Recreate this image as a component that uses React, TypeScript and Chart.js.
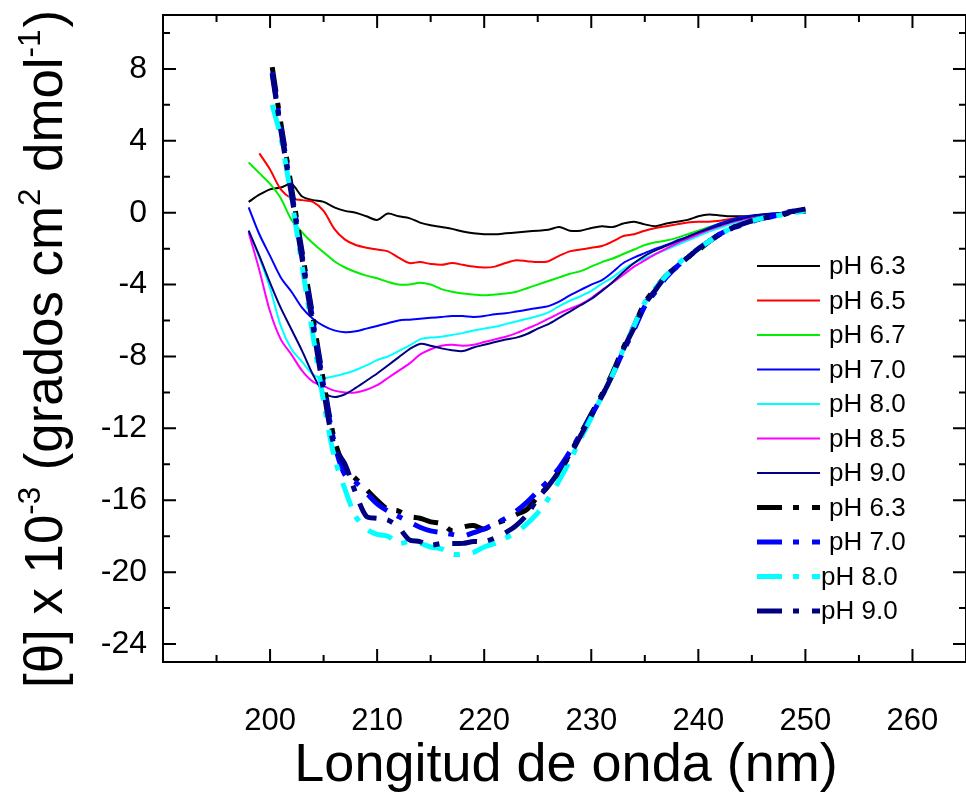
import React, { useEffect, useRef } from 'react';
import { Chart, registerables } from 'chart.js';

Chart.register(...registerables);

const FONT = "'Liberation Sans', Arial, Helvetica, sans-serif";

// ---------- data ----------
const solidWavelengths = [198, 199, 200, 201, 202, 203, 204, 205, 206, 207, 208, 209, 210, 211, 212, 213, 214, 215, 216, 217, 218, 219, 220, 221, 222, 223, 224, 225, 226, 227, 228, 229, 230, 231, 232, 233, 234, 235, 236, 237, 238, 239, 240, 241, 242, 243, 244, 245, 246, 247, 248, 249, 250];

const ph63 = [0.6, 1.0, 1.3, 1.4, 1.6, 0.9, 0.7, 0.6, 0.3, 0.1, 0.0, -0.2, -0.4, -0.05, -0.2, -0.3, -0.55, -0.7, -0.8, -0.9, -1.05, -1.15, -1.2, -1.2, -1.15, -1.1, -1.05, -1.0, -0.95, -0.8, -1.0, -1.0, -0.85, -0.75, -0.8, -0.6, -0.5, -0.65, -0.75, -0.6, -0.5, -0.4, -0.2, -0.1, -0.15, -0.2, -0.2, -0.2, -0.15, -0.1, -0.05, 0.0, 0.0];
const ph65 = [null, 3.3, 2.4, 1.3, 0.8, 0.7, 0.6, 0.1, -0.9, -1.5, -1.8, -1.95, -2.05, -2.15, -2.5, -2.8, -2.75, -2.85, -2.9, -2.8, -2.9, -3.0, -3.05, -3.0, -2.8, -2.65, -2.7, -2.75, -2.7, -2.4, -2.15, -2.05, -1.95, -1.85, -1.6, -1.3, -1.2, -1.0, -0.85, -0.75, -0.65, -0.55, -0.5, -0.5, -0.45, -0.35, -0.25, -0.2, -0.15, -0.1, -0.05, 0.0, 0.0];
const ph67 = [2.8, 2.2, 1.6, 0.8, -0.4, -1.1, -1.7, -2.2, -2.7, -3.05, -3.3, -3.5, -3.65, -3.85, -4.0, -4.0, -3.9, -4.0, -4.25, -4.4, -4.5, -4.55, -4.6, -4.55, -4.5, -4.4, -4.2, -4.0, -3.8, -3.6, -3.4, -3.25, -3.0, -2.75, -2.55, -2.3, -2.05, -1.8, -1.65, -1.55, -1.4, -1.2, -1.0, -0.8, -0.6, -0.45, -0.3, -0.2, -0.15, -0.1, -0.05, 0.0, 0.0];
const ph70 = [0.3, -1.2, -2.4, -3.6, -4.4, -5.3, -5.9, -6.3, -6.55, -6.65, -6.6, -6.45, -6.3, -6.15, -6.0, -5.95, -5.9, -5.85, -5.8, -5.75, -5.75, -5.8, -5.75, -5.65, -5.6, -5.5, -5.4, -5.3, -5.2, -4.95, -4.6, -4.3, -4.0, -3.75, -3.3, -2.8, -2.5, -2.25, -2.0, -1.8, -1.55, -1.35, -1.1, -0.85, -0.6, -0.4, -0.25, -0.15, -0.1, -0.05, 0.0, 0.0, 0.0];
const ph80 = [-1.0, -2.5, -4.2, -6.3, -7.6, -8.3, -9.0, -9.2, -9.1, -8.95, -8.75, -8.5, -8.2, -8.0, -7.7, -7.4, -7.05, -6.95, -6.9, -6.8, -6.7, -6.55, -6.45, -6.35, -6.2, -6.05, -5.9, -5.75, -5.55, -5.2, -4.9, -4.65, -4.35, -3.95, -3.6, -3.15, -2.8, -2.55, -2.3, -2.05, -1.8, -1.55, -1.3, -1.05, -0.85, -0.65, -0.45, -0.3, -0.2, -0.1, -0.05, 0.0, 0.0];
const ph85 = [-1.1, -3.2, -5.5, -7.05, -7.9, -8.8, -9.4, -9.65, -9.9, -10.0, -10.0, -9.85, -9.6, -9.2, -8.8, -8.4, -7.9, -7.6, -7.4, -7.35, -7.4, -7.35, -7.2, -7.05, -6.9, -6.7, -6.45, -6.2, -5.9, -5.6, -5.35, -5.1, -4.75, -4.3, -3.9, -3.45, -3.0, -2.65, -2.3, -2.0, -1.7, -1.45, -1.2, -0.95, -0.75, -0.55, -0.4, -0.25, -0.15, -0.1, -0.05, 0.0, 0.0];
const ph90 = [-1.0, -2.4, -3.9, -5.3, -6.5, -7.7, -9.0, -10.0, -10.25, -10.1, -9.75, -9.35, -8.95, -8.5, -8.05, -7.6, -7.3, -7.4, -7.55, -7.65, -7.7, -7.5, -7.35, -7.2, -7.05, -6.95, -6.75, -6.45, -6.2, -5.85, -5.5, -5.15, -4.8, -4.35, -3.85, -3.3, -2.8, -2.4, -2.1, -1.85, -1.6, -1.35, -1.1, -0.9, -0.7, -0.5, -0.35, -0.2, -0.1, -0.05, 0.0, 0.0, 0.0];

const dashedWavelengths = [200.2, 201, 202, 203, 204, 205, 206, 207, 208, 209, 210, 211, 212, 213, 214, 215, 216, 217, 218, 219, 220, 221, 222, 223, 224, 225, 226, 227, 228, 229, 230, 231, 232, 233, 234, 235, 236, 237, 238, 239, 240, 241, 242, 243, 244, 245, 246, 247, 248, 249, 250];

const ph63b = [8.1, 5.0, 1.4, -2.2, -5.8, -9.4, -12.6, -14.2, -14.8, -15.4, -16.0, -16.5, -16.6, -16.9, -17.0, -17.2, -17.3, -17.7, -17.5, -17.4, -17.6, -17.3, -17.1, -16.8, -16.5, -15.8, -15.2, -14.4, -13.4, -12.3, -11.2, -10.1, -8.9, -7.5, -6.3, -5.0, -4.2, -3.5, -3.0, -2.5, -2.1, -1.6, -1.2, -0.9, -0.6, -0.45, -0.3, -0.2, -0.1, 0.1, 0.2];
const ph70b = [7.8, 4.8, 1.2, -2.4, -6.0, -9.6, -12.8, -14.6, -15.0, -15.6, -16.2, -16.6, -16.9, -17.2, -17.5, -17.7, -17.8, -17.9, -18.0, -17.8, -17.6, -17.3, -17.0, -16.6, -16.1, -15.5, -14.9, -14.2, -13.3, -12.3, -11.3, -10.2, -9.0, -7.7, -6.5, -5.2, -4.4, -3.6, -3.0, -2.5, -2.0, -1.6, -1.2, -0.9, -0.7, -0.5, -0.3, -0.2, 0.0, 0.1, 0.1];
const ph80b = [6.0, 4.2, 0.8, -3.0, -6.8, -10.5, -13.6, -15.4, -16.9, -17.6, -17.9, -18.0, -18.4, -18.3, -18.4, -18.6, -18.7, -19.0, -19.0, -18.9, -18.6, -18.4, -18.1, -17.8, -17.3, -16.7, -15.9, -14.9, -13.8, -12.6, -11.4, -10.2, -9.0, -7.6, -6.3, -5.0, -4.2, -3.5, -2.9, -2.4, -2.0, -1.6, -1.2, -0.9, -0.65, -0.45, -0.3, -0.2, -0.1, 0.0, 0.1];
const ph90b = [7.7, 4.6, 1.0, -2.6, -6.3, -9.9, -13.0, -14.0, -15.6, -16.9, -17.0, -17.1, -17.5, -18.2, -18.3, -18.5, -18.4, -18.4, -18.4, -18.3, -18.3, -18.1, -17.8, -17.4, -16.8, -15.9, -15.2, -14.4, -13.5, -12.4, -11.3, -10.2, -9.0, -7.6, -6.4, -5.1, -4.3, -3.5, -3.0, -2.5, -2.0, -1.6, -1.2, -0.9, -0.65, -0.45, -0.3, -0.2, -0.05, 0.1, 0.2];

const seriesLabels = ['pH 6.3', 'pH 6.5', 'pH 6.7', 'pH 7.0', 'pH 8.0', 'pH 8.5', 'pH 9.0', 'pH 6.3', 'pH 7.0', 'pH 8.0', 'pH 9.0'];
const seriesColors = ['#000000', '#ff0000', '#00ee00', '#0000ff', '#00ffff', '#ff00ff', '#000080', '#000000', '#0000ff', '#00ffff', '#000080'];

const xMajorTicks = [190, 200, 210, 220, 230, 240, 250, 260];
const xTickLabels = [200, 210, 220, 230, 240, 250, 260];
const yMajorTicks = [-24, -20, -16, -12, -8, -4, 0, 4, 8];
const yTickLabels = [8, 4, 0, -4, -8, -12, -16, -20, -24];

const DASH = [25, 11, 6, 13];

function pts(xs: number[], ys: (number | null)[]) {
  return xs.map((x, i) => ({ x, y: ys[i] }));
}

const framePlugin = {
  id: 'frameAndText',
  afterDraw(chart: any) {
    const { ctx, chartArea: a, scales } = chart;
    const xs = scales.x;
    const ys = scales.y;
    ctx.save();
    ctx.strokeStyle = '#000';
    ctx.fillStyle = '#000';
    ctx.lineWidth = 2;
    ctx.setLineDash([]);
    ctx.beginPath();
    ctx.rect(a.left, a.top, a.right - a.left, a.bottom - a.top);
    ctx.stroke();

    const MAJ = 13;
    const MIN = 7;
    ctx.beginPath();
    xMajorTicks.forEach((v) => {
      const px = xs.getPixelForValue(v);
      ctx.moveTo(px, a.bottom); ctx.lineTo(px, a.bottom - MAJ);
      ctx.moveTo(px, a.top); ctx.lineTo(px, a.top + MAJ);
      const pm = xs.getPixelForValue(v + 5);
      ctx.moveTo(pm, a.bottom); ctx.lineTo(pm, a.bottom - MIN);
      ctx.moveTo(pm, a.top); ctx.lineTo(pm, a.top + MIN);
    });
    yMajorTicks.forEach((v) => {
      const py = ys.getPixelForValue(v);
      ctx.moveTo(a.left, py); ctx.lineTo(a.left + MAJ, py);
      ctx.moveTo(a.right, py); ctx.lineTo(a.right - MAJ, py);
      const pm = ys.getPixelForValue(v + 2);
      ctx.moveTo(a.left, pm); ctx.lineTo(a.left + MIN, pm);
      ctx.moveTo(a.right, pm); ctx.lineTo(a.right - MIN, pm);
    });
    ctx.stroke();

    // y tick labels
    ctx.font = `32px ${FONT}`;
    ctx.textAlign = 'right';
    ctx.textBaseline = 'middle';
    yTickLabels.forEach((v) => {
      ctx.fillText(String(v), a.left - 16, ys.getPixelForValue(v));
    });
    // x tick labels
    ctx.font = `31px ${FONT}`;
    ctx.textAlign = 'center';
    ctx.textBaseline = 'alphabetic';
    xTickLabels.forEach((v) => {
      ctx.fillText(String(v), xs.getPixelForValue(v), a.bottom + 68);
    });
    // x title
    ctx.font = `54px ${FONT}`;
    ctx.fillText('Longitud de onda (nm)', 566, 781);

    // y title with superscripts, fitted to its span
    const parts: [string, boolean][] = [
      ['[\u03b8] x 10', false], ['-3', true], [' (grados cm', false], ['2', true], [' dmol', false], ['-1', true], [')', false],
    ];
    let total = 0;
    parts.forEach(([t, sup]) => {
      ctx.font = sup ? `32px ${FONT}` : `54px ${FONT}`;
      total += ctx.measureText(t).width + (sup ? 2 : 0);
    });
    const span = 678;
    ctx.save();
    ctx.translate(62, 688);
    ctx.rotate(-Math.PI / 2);
    ctx.scale(span / total, 1);
    ctx.textAlign = 'left';
    let cx = 0;
    parts.forEach(([t, sup]) => {
      ctx.font = sup ? `32px ${FONT}` : `54px ${FONT}`;
      ctx.fillText(t, cx, sup ? -22 : 0);
      cx += ctx.measureText(t).width + (sup ? 2 : 0);
    });
    ctx.restore();

    // legend
    const rowY0 = 266;
    const rowStep = 34.5;
    chart.data.datasets.forEach((ds: any, i: number) => {
      const y = rowY0 + i * rowStep;
      ctx.save();
      ctx.strokeStyle = ds.borderColor;
      ctx.lineWidth = ds.borderWidth;
      ctx.lineCap = 'butt';
      ctx.setLineDash(ds.borderDash || []);
      ctx.beginPath();
      ctx.moveTo(757, y);
      ctx.lineTo(820, y);
      ctx.stroke();
      ctx.restore();
      ctx.font = `26px ${FONT}`;
      ctx.textAlign = 'left';
      ctx.textBaseline = 'middle';
      ctx.fillStyle = '#000';
      ctx.fillText(ds.label, i >= 9 ? 821 : 829, y + 1);
    });
    ctx.restore();
  },
};

export default function App() {
  const ref = useRef<HTMLCanvasElement>(null);
  useEffect(() => {
    if (!ref.current) return;
    const solid = [ph63, ph65, ph67, ph70, ph80, ph85, ph90];
    const dashed = [ph63b, ph70b, ph80b, ph90b];
    const datasets: any[] = [];
    solid.forEach((s, i) => {
      datasets.push({
        label: seriesLabels[i],
        data: pts(solidWavelengths, s),
        borderColor: seriesColors[i],
        borderWidth: 2,
        pointRadius: 0,
        tension: 0.3,
        fill: false,
      });
    });
    dashed.forEach((s, j) => {
      const i = j + 7;
      datasets.push({
        label: seriesLabels[i],
        data: pts(dashedWavelengths, s),
        borderColor: seriesColors[i],
        borderWidth: 5,
        borderDash: DASH,
        borderCapStyle: 'butt',
        pointRadius: 0,
        tension: 0.3,
        fill: false,
      });
    });
    datasets.forEach((d, i) => { d.order = datasets.length - i; });

    const chart = new Chart(ref.current, {
      type: 'line',
      data: { datasets },
      options: {
        animation: false,
        responsive: false,
        events: [],
        layout: { padding: { top: 15, right: 0, left: 0, bottom: 0 } },
        plugins: { legend: { display: false }, tooltip: { enabled: false } },
        scales: {
          x: {
            type: 'linear',
            min: 190,
            max: 265,
            grid: { display: false, drawTicks: false },
            border: { display: false },
            ticks: { display: false },
            afterFit: (s: any) => { s.height = 131; },
          },
          y: {
            type: 'linear',
            min: -25,
            max: 11,
            grid: { display: false, drawTicks: false },
            border: { display: false },
            ticks: { display: false },
            afterFit: (s: any) => { s.width = 163; },
          },
        },
      },
      plugins: [framePlugin],
    });
    return () => chart.destroy();
  }, []);
  return (
    <div style={{ position: 'absolute', left: 0, top: 0, width: 966, height: 793, background: '#fff' }}>
      <canvas ref={ref} width={966} height={793} style={{ display: 'block' }} />
    </div>
  );
}
